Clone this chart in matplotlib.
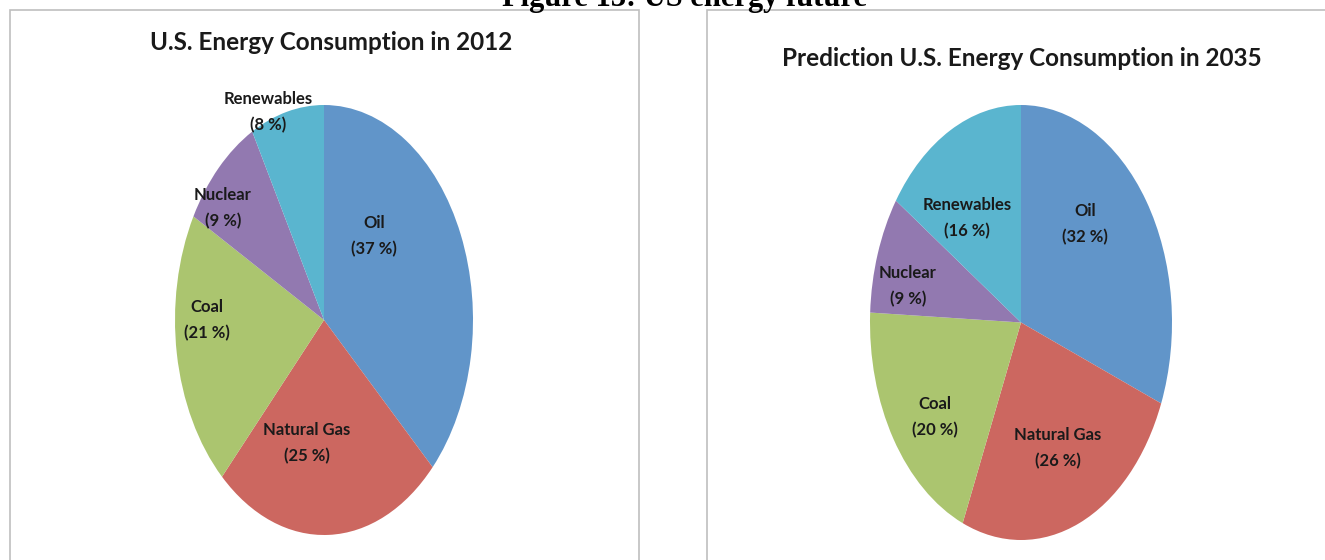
import matplotlib
matplotlib.use('Agg')
import matplotlib.pyplot as plt
from matplotlib.patches import Rectangle

# data
sources = ['Oil', 'Natural Gas', 'Coal', 'Nuclear', 'Renewables']
share_2012 = [37, 25, 21, 9, 8]
share_2035 = [32, 26, 20, 9, 16]
title_2012 = 'U.S. Energy Consumption in 2012'
title_2035 = 'Prediction U.S. Energy Consumption in 2035'
caption = 'Figure 13: US energy future'

colors = ['#6195C9', '#CC6760', '#ABC56F', '#9279B0', '#5AB5CF']
label_font = ['Lato', 'DejaVu Sans']

# label positions inside each (stretched) pie, in pie data units
label_pos_2012 = [(0.336, 0.391), (-0.114, -0.572), (-0.785, 0.0), (-0.678, 0.521), (-0.376, 0.967)]
label_pos_2035 = [(0.424, 0.450), (0.245, -0.578), (-0.570, -0.436), (-0.748, 0.165), (-0.358, 0.482)]

fig = plt.figure(figsize=(13.25, 5.6), dpi=100)
W, H = 1325, 560


def px_box(x0, y0, x1, y1):
    # pixel box (top-left origin) -> figure fraction rect
    return [x0 / W, 1 - y1 / H, (x1 - x0) / W, (y1 - y0) / H]


# grey chart-area frames
fig.patches.append(Rectangle((10 / W, -0.1), (639 - 10) / W, 1.1 - 10 / H, transform=fig.transFigure,
                             fill=False, edgecolor='#BFBFBF', linewidth=1.2))
fig.patches.append(Rectangle((707 / W, -0.1), (1330 - 707) / W, 1.1 - 10 / H, transform=fig.transFigure,
                             fill=False, edgecolor='#BFBFBF', linewidth=1.2))


def draw_pie(rect, values, label_pos):
    ax = fig.add_axes(rect)
    ax.pie(values, colors=colors, startangle=90, counterclock=False,
           wedgeprops=dict(linewidth=0))
    ax.set_aspect('auto')
    ax.set_xlim(-1, 1)
    ax.set_ylim(-1, 1)
    ax.axis('off')
    for name, val, (x, y) in zip(sources, values, label_pos):
        ax.text(x, y, f'{name}\n({val} %)', ha='center', va='center', fontsize=12,
                fontweight='bold', family=label_font, linespacing=1.75, color='#1a1a1a')
    return ax


draw_pie(px_box(175, 105, 473, 535), share_2012, label_pos_2012)
draw_pie(px_box(870, 105, 1172, 540), share_2035, label_pos_2035)

fig.text(331 / W, 1 - 43 / H, title_2012, ha='center', va='center', fontsize=17.5,
         fontweight='bold', family=label_font, color='#1a1a1a')
fig.text(1022 / W, 1 - 58 / H, title_2035, ha='center', va='center', fontsize=17.5,
         fontweight='bold', family=label_font, color='#1a1a1a')

# caption cut off at the top edge, as in the reference
fig.text(684 / W, 1 - 6 / H, caption, ha='center', va='baseline', fontsize=22,
         fontweight='bold', family=['Liberation Serif', 'DejaVu Serif'])

fig.savefig('out.png', dpi=100)
